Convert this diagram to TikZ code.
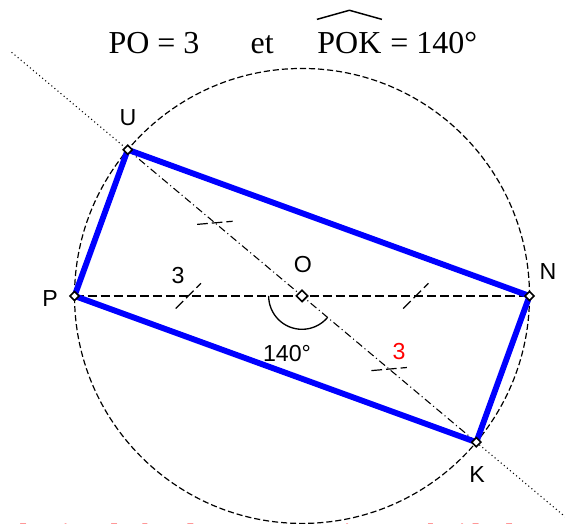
\documentclass[tikz,border=0pt]{standalone}
\usepackage{fontspec}
\setmainfont{Liberation Serif}
\setsansfont{Liberation Sans}
\usetikzlibrary{calc,positioning}
\tikzset{
  vtx/.style={draw, fill=white, rectangle, rotate=45, minimum size=2.4pt, inner sep=0pt, line width=0.6pt},
  lbl/.style={font=\sffamily\fontsize{8.7}{10}\selectfont, inner sep=0pt},
  ttl/.style={font=\fontsize{12}{14}\selectfont, inner sep=0pt},
  side/.style={blue, line width=2.2pt, line join=round},
  tick/.style={dash pattern=on 4pt off 1.5pt, line width=0.45pt},
}

\begin{document}
\begin{tikzpicture}[x=1cm, y=1cm]
\clip (-3.983,-3.007) rectangle (3.468,3.903);
% points: centre O, PO = 3, POK = 140
\coordinate (O) at (0,0);
\coordinate (P) at (180:3);
\coordinate (N) at (0:3);
\coordinate (U) at (140:3);
\coordinate (K) at (-40:3);
\coordinate (dU) at (140:5);
\coordinate (dK) at (-40:4.8);
% circle and diagonals
\draw[dash pattern=on 2.3pt off 1.1pt, line width=0.45pt] (O) circle (3);
\draw[dash pattern=on 3.4pt off 1.5pt, line width=0.45pt] (P) -- (N);
\draw[dash pattern=on 2.8pt off 1.2pt on 0.4pt off 1.2pt, line width=0.4pt] (U) -- (K);
\draw[dash pattern=on 0.4pt off 1.1pt, line width=0.4pt] (dU) -- (U);
\draw[dash pattern=on 0.4pt off 1.1pt, line width=0.4pt] (K) -- (dK);
% equal lengths
\draw[tick] ($(P)!0.5!(O)+(225:0.235)$) -- ($(P)!0.5!(O)+(45:0.235)$);
\draw[tick] ($(O)!0.5!(N)+(225:0.235)$) -- ($(O)!0.5!(N)+(45:0.235)$);
\draw[tick] ($(U)!0.5!(O)+(185:0.235)$) -- ($(U)!0.5!(O)+(5:0.235)$);
\draw[tick] ($(O)!0.5!(K)+(185:0.235)$) -- ($(O)!0.5!(K)+(5:0.235)$);
% angle POK
\draw[line width=0.5pt] ($(O)+(180:0.44)$) arc[start angle=180, end angle=320, radius=0.44];
% rectangle PUNK
\draw[side] (P) -- (U) -- (N) -- (K) -- cycle;
% vertices
\node[vtx] (mP) at (P) {};
\node[vtx] (mU) at (U) {};
\node[vtx] (mN) at (N) {};
\node[vtx] (mK) at (K) {};
\node[vtx, minimum size=3pt] (mO) at (O) {};
% labels
\node[lbl] (lU) at (-2.295,2.347) {U};
\node[lbl] (lO) at (0.013,0.409) {O};
\node[lbl] (lP) at (-3.323,-0.04) {P};
\node[lbl] (lN) at (3.244,0.316) {N};
\node[lbl] (lK) at (2.308,-2.361) {K};
\node[lbl] (l3) at (-1.635,0.264) {3};
\node[lbl, text=red] (l3r) at (1.279,-0.738) {3};
\node[lbl] (lang) at (-0.198,-0.765) {140°};
% title
\node[ttl, anchor=base west] (t1) at (-2.558,3.191) {PO = 3\hspace{1.6em}et};
\node[ttl, base right=1.6em of t1] (tpok) {POK};
\node[ttl, base right=0.3em of tpok] (t2) {= 140°};
\draw[line width=0.55pt] ($(tpok.north west)+(0,0.17)$) -- ($(tpok.north)+(0,0.29)$) -- ($(tpok.north east)+(0,0.17)$);
\node[anchor=base west, text=red, font=\bfseries\itshape\fontsize{10.5}{12}\selectfont] (note) at (-4.39,-3.265)
  {Je dessine d'abord un rayon puis avec l'aide du rapporteur je trace l'angle};
\end{tikzpicture}
\end{document}
